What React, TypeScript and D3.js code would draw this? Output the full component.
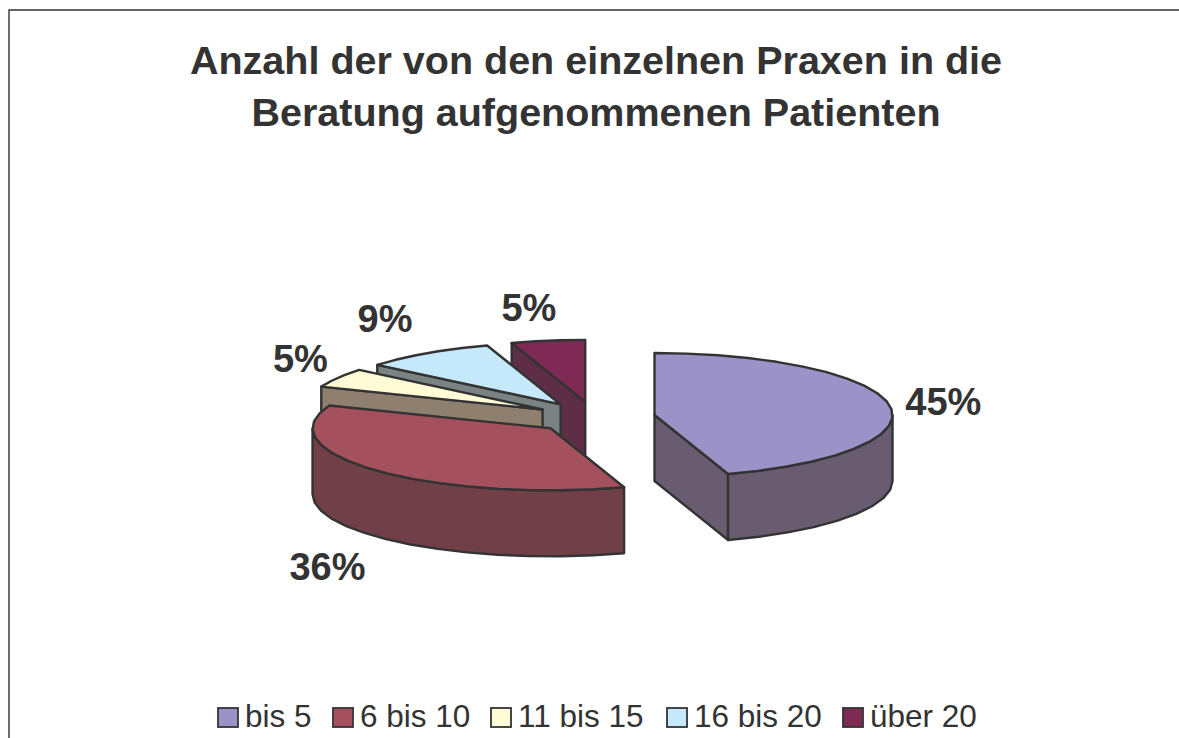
import React from 'react'
import * as d3 from 'd3'

const title = ['Anzahl der von den einzelnen Praxen in die', 'Beratung aufgenommenen Patienten']
const categories = ['bis 5', '6 bis 10', '11 bis 15', '16 bis 20', 'über 20']
const shares = [45, 36, 5, 9, 5]
const topColors = ['#9b93c8', '#a5505d', '#fffbd7', '#c5e8fa', '#7f2a55']
const wallColors = ['#6a5c70', '#703f48', '#8f7f6f', '#7a8282', '#5e2e46']

const width = 1179
const height = 738
const inkColor = '#333333'
const labelFont = '"Liberation Sans", Arial, sans-serif'

// pie geometry, tilted so the circle is an ellipse
const center = { x: 594.7, y: 417.5 }
const radiusX = 238
const radiusY = 62
const depth = 66
const explode = 0.2545
const labelRadius = 1.5

// small moves of the percent labels away from their radial position
const labelNudgeX = [-4, -7, 13, -9, -10]
const labelNudgeY = [-2, 19, -12, -22, -18]
// legend entries, left edge of each swatch
const legendX = [218, 333, 491, 667, 843]

const px = d3.scaleLinear().domain([-1, 1]).range([-radiusX, radiusX])
const py = d3.scaleLinear().domain([-1, 1]).range([-radiusY, radiusY])

type Pt = [number, number]

const pathLine = d3.line<Pt>().x((d) => d[0]).y((d) => d[1])

function onEllipse(cx: number, cy: number, a: number, r = 1): Pt {
  return [cx + px(r * Math.sin(a)), cy + py(-r * Math.cos(a))]
}

function arcPoints(cx: number, cy: number, a0: number, a1: number): Pt[] {
  const steps = Math.max(2, Math.ceil((a1 - a0) / 0.14))
  return d3.range(steps + 1).map((i) => onEllipse(cx, cy, a0 + ((a1 - a0) * i) / steps))
}

function closed(points: Pt[]) {
  return pathLine(points) + 'Z'
}

function Slice({ arc, index }: { arc: d3.PieArcDatum<number>; index: number }) {
  const { startAngle: a0, endAngle: a1 } = arc
  const mid = (a0 + a1) / 2
  const [cx, cy] = onEllipse(center.x, center.y, mid, explode)
  const drop = (p: Pt): Pt => [p[0], p[1] + depth]
  const walls: string[] = []

  // radial walls that face the viewer
  if (Math.sin(a0) < -1e-6) {
    const edge: Pt[] = [[cx, cy], onEllipse(cx, cy, a0)]
    walls.push(closed([...edge, ...edge.map(drop).reverse()]))
  }
  if (Math.sin(a1) > 1e-6) {
    const edge: Pt[] = [[cx, cy], onEllipse(cx, cy, a1)]
    walls.push(closed([...edge, ...edge.map(drop).reverse()]))
  }

  // the front part of the rim
  const rim0 = Math.max(a0, Math.PI / 2)
  const rim1 = Math.min(a1, (3 * Math.PI) / 2)
  if (rim1 > rim0) {
    const rim = arcPoints(cx, cy, rim0, rim1)
    walls.push(closed([...rim, ...rim.map(drop).reverse()]))
  }

  const top = closed([[cx, cy], ...arcPoints(cx, cy, a0, a1)])

  return (
    <g stroke={inkColor} strokeWidth={2.4} strokeLinejoin="round">
      {walls.map((d, i) => (
        <path key={i} d={d} fill={wallColors[index]} />
      ))}
      <path d={top} fill={topColors[index]} />
    </g>
  )
}

export default function App() {
  const arcs = d3
    .pie<number>()
    .sort(null)
    .startAngle(0)
    .endAngle(2 * Math.PI)(shares)

  return (
    <svg
      width={width}
      height={height}
      style={{ position: 'fixed', left: 0, top: 0, background: '#fff' }}
      fontFamily={labelFont}
    >
      <path d={`M9,${height}V10H${width}`} fill="none" stroke="#333" strokeWidth={1.4} />

      {title.map((line, i) => (
        <text
          key={i}
          x={596}
          y={74 + i * 52}
          textAnchor="middle"
          fontSize={39.5}
          fontWeight="bold"
          fill={inkColor}
        >
          {line}
        </text>
      ))}

      {/* back slices first */}
      {arcs
        .map((arc, i) => ({ arc, i }))
        .reverse()
        .map(({ arc, i }) => (
          <Slice key={i} arc={arc} index={i} />
        ))}

      {arcs.map((arc, i) => {
        const mid = (arc.startAngle + arc.endAngle) / 2
        const [x, y] = onEllipse(center.x, center.y, mid, labelRadius)
        const below = Math.cos(mid) < 0 && Math.sin(mid) < 0 ? depth : 0
        return (
          <text
            key={i}
            x={x + labelNudgeX[i]}
            y={y + below + labelNudgeY[i]}
            dy="0.36em"
            textAnchor="middle"
            fontSize={38}
            fontWeight="bold"
            fill={inkColor}
          >
            {shares[i]}%
          </text>
        )
      })}

      {categories.map((name, i) => (
        <g key={name}>
          <rect
            x={legendX[i]}
            y={708}
            width={20}
            height={19}
            fill={topColors[i]}
            stroke={inkColor}
            strokeWidth={1.8}
          />
          <text x={legendX[i] + 27} y={727} fontSize={31.5} fill={inkColor}>
            {name}
          </text>
        </g>
      ))}
    </svg>
  )
}
